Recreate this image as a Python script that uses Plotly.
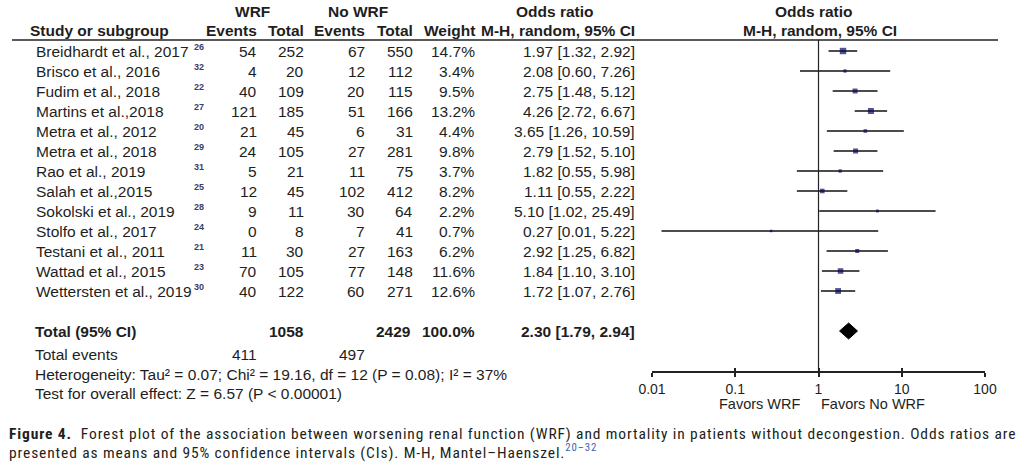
import plotly.graph_objects as go

# ---------------- data ----------------
studies = ["Breidhardt et al., 2017", "Brisco et al., 2016", "Fudim et al., 2018",
           "Martins et al.,2018", "Metra et al., 2012", "Metra et al., 2018",
           "Rao et al., 2019", "Salah et al.,2015", "Sokolski et al., 2019",
           "Stolfo et al., 2017", "Testani et al., 2011", "Wattad et al., 2015",
           "Wettersten et al., 2019"]
refs = ["26", "32", "22", "27", "20", "29", "31", "25", "28", "24", "21", "23", "30"]
wrf_events = [54, 4, 40, 121, 21, 24, 5, 12, 9, 0, 11, 70, 40]
wrf_total = [252, 20, 109, 185, 45, 105, 21, 45, 11, 8, 30, 105, 122]
nowrf_events = [67, 12, 20, 51, 6, 27, 11, 102, 30, 7, 27, 77, 60]
nowrf_total = [550, 112, 115, 166, 31, 281, 75, 412, 64, 41, 163, 148, 271]
weights = [14.7, 3.4, 9.5, 13.2, 4.4, 9.8, 3.7, 8.2, 2.2, 0.7, 6.2, 11.6, 12.6]
odds = [1.97, 2.08, 2.75, 4.26, 3.65, 2.79, 1.82, 1.11, 5.10, 0.27, 2.92, 1.84, 1.72]
ci_low = [1.32, 0.60, 1.48, 2.72, 1.26, 1.52, 0.55, 0.55, 1.02, 0.013, 1.25, 1.10, 1.07]
ci_high = [2.92, 7.26, 5.12, 6.67, 10.59, 5.10, 5.98, 2.22, 25.49, 5.22, 6.82, 3.10, 2.76]

total_wrf_n = 1058
total_nowrf_n = 2429
total_weight = 100.0
total_or = 2.30
total_low = 1.79
total_high = 2.94
total_wrf_events = 411
total_nowrf_events = 497
heterogeneity = "Heterogeneity: Tau² = 0.07; Chi² = 19.16, df = 12 (P = 0.08); I² = 37%"
overall = "Test for overall effect: Z = 6.57 (P < 0.00001)"

tick_vals = [0.01, 0.1, 1, 10, 100]
tick_text = ["0.01", "0.1", "1", "10", "100"]

caption1 = ("<b>Figure 4.</b>  Forest plot of the association between worsening renal function (WRF) "
            "and mortality in patients without decongestion. Odds ratios are")
caption2 = ("presented as means and 95% confidence intervals (CIs). M-H, Mantel\u2013Haenszel."
            "<sup><span style='color:#3a63b0'>20\u201332</span></sup>")

# ---------------- layout helpers ----------------
W, H = 1024, 471
ROW0, ROWH = 51, 20           # pixel y of first row, row height
TOTAL_ROW = 14


def px_x(p):
    return p / W


def px_y(p):
    return 1 - p / H


def row_of(p):
    return (p - ROW0) / ROWH


FONT = "Liberation Sans, Arial, sans-serif"
FS = 15.5
TXT = "#1e1e1e"
NAVY = "#08085e"

fig = go.Figure()

rows = list(range(len(studies)))

# CI lines
lx, ly = [], []
for i in rows:
    lx += [ci_low[i], ci_high[i], None]
    ly += [i, i, None]
fig.add_trace(go.Scatter(x=lx, y=ly, mode="lines", line=dict(color="#111111", width=1.5),
                         hoverinfo="skip", showlegend=False))

# squares
fig.add_trace(go.Scatter(x=odds, y=rows, mode="markers",
                         marker=dict(symbol="square", color=NAVY,
                                     size=[2.3 + 0.28 * w for w in weights], line=dict(width=0)),
                         showlegend=False))

# diamond
fig.add_trace(go.Scatter(x=[total_low, total_or, total_high, total_or, total_low],
                         y=[TOTAL_ROW, TOTAL_ROW - 0.4, TOTAL_ROW, TOTAL_ROW + 0.4, TOTAL_ROW],
                         mode="lines", fill="toself", fillcolor="black",
                         line=dict(color="black", width=1), showlegend=False))

# invisible trace for overlay axis (inside ticks)
fig.add_trace(go.Scatter(x=[1], y=[0], xaxis="x2", mode="markers",
                         marker=dict(opacity=0), showlegend=False, hoverinfo="skip"))

ann = []


def text(x, y, s, anchor="left", bold=False, size=FS, color=TXT, yref="y"):
    ann.append(dict(x=x, y=y, xref="paper", yref=yref, text=f"<b>{s}</b>" if bold else s,
                    showarrow=False, xanchor=anchor, yanchor="middle",
                    font=dict(family=FONT, size=size, color=color)))


# headers (pixel positions)
hy1, hy2 = row_of(11), row_of(30)
text(px_x(252), hy1, "WRF", "center", True)
text(px_x(358), hy1, "No WRF", "center", True)
text(px_x(555), hy1, "Odds ratio", "center", True)
text(px_x(814), hy1, "Odds ratio", "center", True)
text(px_x(28), hy2, "Study or subgroup", "left", True)
text(px_x(259), hy2, "Events", "right", True)
text(px_x(306), hy2, "Total", "right", True)
text(px_x(367), hy2, "Events", "right", True)
text(px_x(415), hy2, "Total", "right", True)
text(px_x(477), hy2, "Weight", "right", True)
text(px_x(637), hy2, "M-H, random, 95% CI", "right", True)
text(px_x(820), hy2, "M-H, random, 95% CI", "center", True)

# study rows
for i in rows:
    text(px_x(34), i, studies[i])
    ann.append(dict(x=px_x(192), y=i - 0.22, xref="paper", yref="y", text=f"<b>{refs[i]}</b>",
                    showarrow=False, xanchor="left", yanchor="middle",
                    font=dict(family=FONT, size=9, color="#3c3c66")))
    text(px_x(259), i, str(wrf_events[i]), "right")
    text(px_x(306), i, str(wrf_total[i]), "right")
    text(px_x(367), i, str(nowrf_events[i]), "right")
    text(px_x(415), i, str(nowrf_total[i]), "right")
    text(px_x(477), i, f"{weights[i]:.1f}%", "right")
    text(px_x(637), i, f"{odds[i]:.2f} [{ci_low[i]:.2f}, {ci_high[i]:.2f}]", "right")

# total rows
text(px_x(33), TOTAL_ROW, "Total (95% CI)", "left", True)
text(px_x(306), TOTAL_ROW, str(total_wrf_n), "right", True)
text(px_x(413), TOTAL_ROW, str(total_nowrf_n), "right", True)
text(px_x(477), TOTAL_ROW, f"{total_weight:.1f}%", "right", True)
text(px_x(637), TOTAL_ROW, f"{total_or:.2f} [{total_low:.2f}, {total_high:.2f}]", "right", True)

ev_y = row_of(354)
text(px_x(33), ev_y, "Total events")
text(px_x(259), ev_y, str(total_wrf_events), "right")
text(px_x(367), ev_y, str(total_nowrf_events), "right")
text(px_x(33), row_of(374), heterogeneity)
text(px_x(33), row_of(393), overall)

# favors labels
text(px_x(760), row_of(404), "Favors WRF", "center", size=14.5)
text(px_x(873), row_of(404), "Favors No WRF", "center", size=14.5)

# caption
CAPFONT = "Roboto Condensed, Liberation Sans Narrow, DejaVu Sans Condensed, sans-serif"
for cap, yy in ((caption1, 434), (caption2, 451)):
    ann.append(dict(x=px_x(7), y=px_y(yy), xref="paper", yref="paper",
                    text=f"<span style='letter-spacing:0.88px'>{cap}</span>",
                    showarrow=False, xanchor="left", yanchor="middle",
                    font=dict(family=CAPFONT, size=15.5, color="#231f20")))

shapes = [
    dict(type="line", xref="paper", yref="paper", x0=px_x(12), x1=px_x(998),
         y0=px_y(40), y1=px_y(40), line=dict(color="#222", width=1.5)),
    dict(type="line", xref="x", yref="paper", x0=1, x1=1, y0=px_y(40), y1=px_y(372),
         line=dict(color="#222", width=1.2)),
]

dom = [px_x(652), px_x(985)]

axis_common = dict(type="log", range=[-2, 2], domain=dom, anchor="free", position=px_y(372),
                   tickvals=tick_vals, showgrid=False, zeroline=False, automargin=False,
                   ticklen=4, tickwidth=1.5, tickcolor="#222")

fig.update_layout(
    width=W, height=H, autosize=False, margin=dict(l=0, r=0, t=0, b=0, pad=0),
    paper_bgcolor="white", plot_bgcolor="white", hovermode=False,
    xaxis=dict(**axis_common, ticktext=tick_text, ticks="outside", showline=True,
               linecolor="#222", linewidth=1.5,
               tickfont=dict(family=FONT, size=14, color=TXT)),
    xaxis2=dict(**axis_common, overlaying="x", ticks="inside", showline=False,
                showticklabels=False),
    yaxis=dict(range=[row_of(H), row_of(0)], domain=[0, 1], visible=False,
               automargin=False, showgrid=False, zeroline=False),
    annotations=ann, shapes=shapes, showlegend=False,
)

fig.write_html("out.html", config={"responsive": False, "displayModeBar": False},
               post_script="document.body.style.margin='0';")
